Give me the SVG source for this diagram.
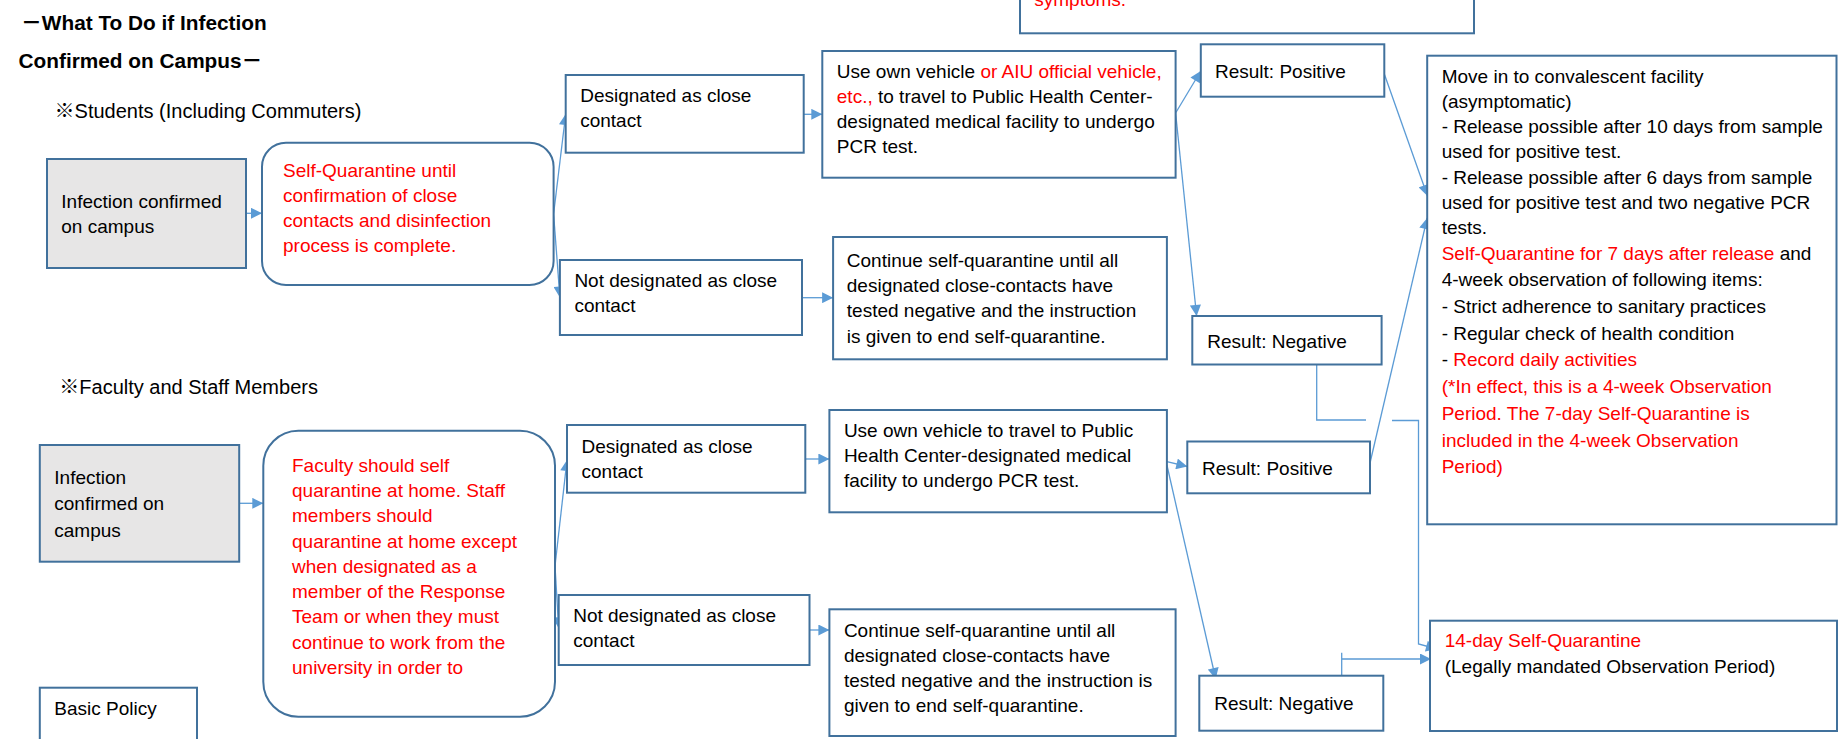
<svg xmlns="http://www.w3.org/2000/svg" width="1843" height="739" viewBox="0 0 1843 739">
<style>
.box{fill:#FFFFFF;stroke:#41719C;stroke-width:2}
.gray{fill:#E7E6E6}
text{font-family:"Liberation Sans","Noto Sans CJK JP",sans-serif;font-size:19px;fill:#000000}
.r{fill:#FF0000}
.h{font-weight:bold;font-size:20.8px}
.sub{font-size:20px}
.conn{stroke:#5B9BD5;stroke-width:1.3;fill:none}
</style>
<defs>
<marker id="ah" viewBox="0 0 10 10" refX="10" refY="5" markerWidth="12" markerHeight="11" markerUnits="userSpaceOnUse" orient="auto">
<path d="M0,0 L10,5 L0,10 z" fill="#5B9BD5"/>
</marker>
</defs>
<rect x="0" y="0" width="1843" height="739" fill="#FFFFFF"/>

<g id="headings">
<text class="h" x="21" y="30">－What To Do if Infection</text>
<text class="h" x="18.6" y="68">Confirmed on Campus－</text>
<text class="sub" x="54.6" y="118.3">※Students (Including Commuters)</text>
<text class="sub" x="59.3" y="394">※Faculty and Staff Members</text>
</g>

<g id="connectors">
<line class="conn" x1="246" y1="213.3" x2="262" y2="213.3" marker-end="url(#ah)"/>
<line class="conn" x1="553.6" y1="214" x2="565.7" y2="114" marker-end="url(#ah)"/>
<line class="conn" x1="553.6" y1="214" x2="559.9" y2="297.5" marker-end="url(#ah)"/>
<line class="conn" x1="803.7" y1="114.3" x2="822.3" y2="114.3" marker-end="url(#ah)"/>
<line class="conn" x1="802" y1="297.7" x2="833.1" y2="297.7" marker-end="url(#ah)"/>
<line class="conn" x1="1175.6" y1="113" x2="1200.8" y2="71" marker-end="url(#ah)"/>
<line class="conn" x1="1175.6" y1="113" x2="1196.6" y2="316" marker-end="url(#ah)"/>
<line class="conn" x1="1384.3" y1="74" x2="1427.5" y2="196" marker-end="url(#ah)"/>
<line class="conn" x1="1370" y1="463" x2="1427.2" y2="218" marker-end="url(#ah)"/>
<path class="conn" d="M1316.7,364.3 V420 H1366"/>
<path class="conn" d="M1392,420.5 H1418.5 V644 L1437,649" marker-end="url(#ah)"/>
<line class="conn" x1="239.2" y1="503.3" x2="263.3" y2="503.3" marker-end="url(#ah)"/>
<line class="conn" x1="555" y1="566" x2="567" y2="460" marker-end="url(#ah)"/>
<line class="conn" x1="555" y1="566" x2="558.7" y2="628.3" marker-end="url(#ah)"/>
<line class="conn" x1="805.3" y1="459" x2="829.4" y2="459" marker-end="url(#ah)"/>
<line class="conn" x1="809.5" y1="630" x2="829.4" y2="630" marker-end="url(#ah)"/>
<line class="conn" x1="1166.9" y1="461.7" x2="1187.3" y2="466.5" marker-end="url(#ah)"/>
<line class="conn" x1="1166.9" y1="465" x2="1215.7" y2="679" marker-end="url(#ah)"/>
<path class="conn" d="M1341.7,675.7 V652.7 M1341.7,659 H1431" marker-end="url(#ah)"/>
</g>

<g id="top-box">
<rect class="box" x="1020" y="-10" width="454" height="43.3"/>
<text class="r" x="1034.3" y="6">symptoms.</text>
</g>

<g id="s-infection">
<rect class="box gray" x="47" y="159" width="199" height="109"/>
<text x="61.3" y="208.3">Infection confirmed</text>
<text x="61.3" y="233.3">on campus</text>
</g>

<g id="s-selfquarantine">
<rect class="box" x="262" y="142.7" width="291.6" height="142.3" rx="24" ry="24"/>
<text class="r" x="283" y="176.7">Self-Quarantine until</text>
<text class="r" x="283" y="201.7">confirmation of close</text>
<text class="r" x="283" y="226.7">contacts and disinfection</text>
<text class="r" x="283" y="252.3">process is complete.</text>
</g>

<g id="s-designated">
<rect class="box" x="565.7" y="75" width="238" height="77.7"/>
<text x="580.2" y="101.7">Designated as close</text>
<text x="580.2" y="126.7">contact</text>
</g>

<g id="s-notdesignated">
<rect class="box" x="559.9" y="260" width="242.1" height="75"/>
<text x="574.4" y="286.7">Not designated as close</text>
<text x="574.4" y="311.7">contact</text>
</g>

<g id="s-vehicle">
<rect class="box" x="822.3" y="51" width="353.3" height="126.7"/>
<text x="836.8" y="77.7">Use own vehicle <tspan class="r">or AIU official vehicle,</tspan></text>
<text x="836.8" y="102.7"><tspan class="r">etc.,</tspan> to travel to Public Health Center-</text>
<text x="836.8" y="127.7">designated medical facility to undergo</text>
<text x="836.8" y="153.3">PCR test.</text>
</g>

<g id="s-continue">
<rect class="box" x="833.1" y="237" width="333.8" height="122.3"/>
<text x="846.8" y="266.7">Continue self-quarantine until all</text>
<text x="846.8" y="291.7">designated close-contacts have</text>
<text x="846.8" y="317.3">tested negative and the instruction</text>
<text x="846.8" y="342.7">is given to end self-quarantine.</text>
</g>

<g id="s-positive">
<rect class="box" x="1200.8" y="44.3" width="183.5" height="52.4"/>
<text x="1215" y="78.3">Result: Positive</text>
</g>

<g id="s-negative">
<rect class="box" x="1192.3" y="316" width="189.3" height="48.5"/>
<text x="1207.3" y="348.3">Result: Negative</text>
</g>

<g id="convalescent">
<rect class="box" x="1427.2" y="55.7" width="409.3" height="468.6"/>
<text x="1441.7" y="82.7">Move in to convalescent facility</text>
<text x="1441.7" y="108.3">(asymptomatic)</text>
<text x="1441.7" y="133.3">- Release possible after 10 days from sample</text>
<text x="1441.7" y="158.3">used for positive test.</text>
<text x="1441.7" y="184">- Release possible after 6 days from sample</text>
<text x="1441.7" y="209.3">used for positive test and two negative PCR</text>
<text x="1441.7" y="234.3">tests.</text>
<text x="1441.7" y="260"><tspan class="r">Self-Quarantine for 7 days after release</tspan> and</text>
<text x="1441.7" y="286">4-week observation of following items:</text>
<text x="1441.7" y="313.3">- Strict adherence to sanitary practices</text>
<text x="1441.7" y="340">- Regular check of health condition</text>
<text x="1441.7" y="366">- <tspan class="r">Record daily activities</tspan></text>
<text class="r" x="1441.7" y="392.7">(*In effect, this is a 4-week Observation</text>
<text class="r" x="1441.7" y="420">Period. The 7-day Self-Quarantine is</text>
<text class="r" x="1441.7" y="446.7">included in the 4-week Observation</text>
<text class="r" x="1441.7" y="473.3">Period)</text>
</g>

<g id="f-infection">
<rect class="box gray" x="39.8" y="445" width="199.4" height="116.7"/>
<text x="54.3" y="484">Infection</text>
<text x="54.3" y="510">confirmed on</text>
<text x="54.3" y="536.7">campus</text>
</g>

<g id="f-selfquarantine">
<rect class="box" x="263.3" y="430.7" width="291.7" height="286" rx="35" ry="35"/>
<text class="r" x="292" y="471.7">Faculty should self</text>
<text class="r" x="292" y="496.7">quarantine at home. Staff</text>
<text class="r" x="292" y="521.7">members should</text>
<text class="r" x="292" y="547.7">quarantine at home except</text>
<text class="r" x="292" y="572.7">when designated as a</text>
<text class="r" x="292" y="598.3">member of the Response</text>
<text class="r" x="292" y="623.3">Team or when they must</text>
<text class="r" x="292" y="649">continue to work from the</text>
<text class="r" x="292" y="674">university in order to</text>
</g>

<g id="f-designated">
<rect class="box" x="567" y="425" width="238.3" height="67.7"/>
<text x="581.5" y="452.7">Designated as close</text>
<text x="581.5" y="477.7">contact</text>
</g>

<g id="f-notdesignated">
<rect class="box" x="558.7" y="595" width="250.8" height="70"/>
<text x="573.2" y="621.7">Not designated as close</text>
<text x="573.2" y="646.7">contact</text>
</g>

<g id="f-vehicle">
<rect class="box" x="829.4" y="410" width="337.5" height="102.3"/>
<text x="843.9" y="436.7">Use own vehicle to travel to Public</text>
<text x="843.9" y="461.7">Health Center-designated medical</text>
<text x="843.9" y="487.3">facility to undergo PCR test.</text>
</g>

<g id="f-continue">
<rect class="box" x="829.4" y="609.3" width="346.2" height="126.7"/>
<text x="843.9" y="636.7">Continue self-quarantine until all</text>
<text x="843.9" y="661.7">designated close-contacts have</text>
<text x="843.9" y="686.7">tested negative and the instruction is</text>
<text x="843.9" y="712.3">given to end self-quarantine.</text>
</g>

<g id="f-positive">
<rect class="box" x="1187.3" y="441.5" width="182.7" height="51.8"/>
<text x="1202" y="475">Result: Positive</text>
</g>

<g id="f-negative">
<rect class="box" x="1199.3" y="675.7" width="184" height="55"/>
<text x="1214.2" y="710">Result: Negative</text>
</g>

<g id="quarantine14">
<rect class="box" x="1430" y="620.7" width="407" height="110.3"/>
<text class="r" x="1444.7" y="646.7">14-day Self-Quarantine</text>
<text x="1444.7" y="672.7">(Legally mandated Observation Period)</text>
</g>

<g id="basic-policy">
<rect class="box" x="39.8" y="687.7" width="157.2" height="60"/>
<text x="54.3" y="715">Basic Policy</text>
</g>
</svg>
